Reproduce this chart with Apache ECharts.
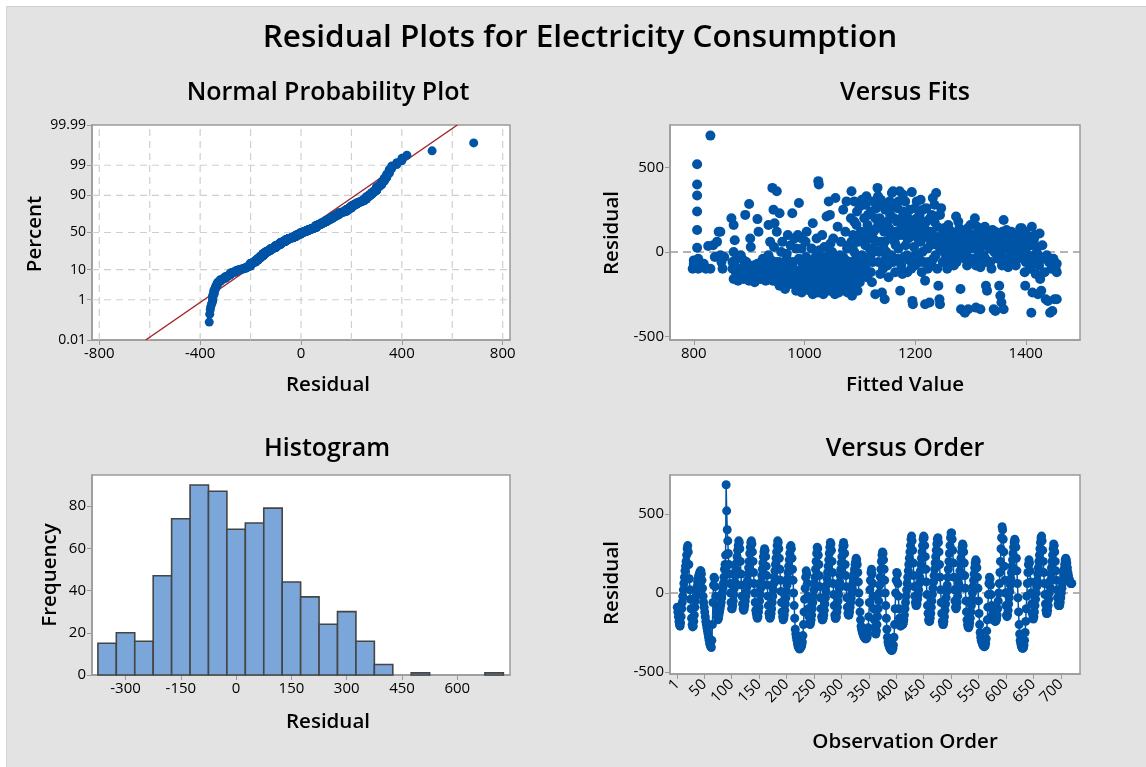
<!DOCTYPE html>
<html><head><meta charset="utf-8">
<script src="https://cdn.jsdelivr.net/npm/echarts@6/dist/echarts.min.js"></script>
<style>
html,body{margin:0;padding:0;background:#fff;}
#bg{position:absolute;left:6px;top:6px;width:1140px;height:761px;background:#e3e3e3;border-top:1px solid #cfcfcf;border-left:1px solid #d6d6d6;box-sizing:border-box;}
#c{position:absolute;left:0;top:0;width:1146px;height:767px;}
</style></head>
<body><div id="bg"></div><div id="c"></div>
<script>
const F = "Open Sans";
const BLUE = '#0054a6';

// ---- Versus Order: residuals in observation order (24 per row) ----
const orderResiduals = [
 -90,-120,-150,-180,-200,-210,-190,-150,-100,-60,-20,20,60,100,140,170,200,240,280,300,260,180,90,20,
 -40,-100,-160,-200,-215,-210,-180,-140,-90,-50,-20,10,40,70,90,110,120,130,140,140,120,80,30,-20,
 -60,-90,-120,-150,-180,-200,-220,-240,-260,-280,-300,-320,-330,-340,-345,-300,-200,-60,50,100,90,40,-20,-80,
 -120,-150,-170,-160,-140,-120,-100,-80,-60,-30,0,30,60,100,150,180,240,685,520,400,330,250,180,120,
 60,0,-60,-100,-100,-80,-50,-10,30,70,110,150,190,230,270,300,330,320,280,200,120,50,-20,-70,
 -100,-110,-100,-80,-50,-20,10,40,80,120,160,200,250,290,320,330,310,260,200,130,60,0,-60,-110,
 -130,-150,-160,-150,-120,-90,-50,-10,30,70,110,150,190,230,260,280,270,230,170,110,50,-20,-80,-130,
 -150,-160,-150,-130,-100,-60,-20,20,60,100,140,180,220,260,300,330,320,280,220,150,80,10,-60,-120,
 -150,-170,-160,-140,-110,-70,-30,10,50,90,130,170,210,250,290,300,280,220,150,80,0,-80,-160,-230,
 -260,-280,-300,-320,-335,-345,-350,-355,-350,-345,-340,-330,-310,-270,-200,-120,-40,30,100,140,120,60,-20,-100,
 -150,-190,-200,-190,-170,-140,-100,-60,-20,20,60,100,150,200,250,290,280,240,180,110,40,-30,-100,-150,
 -170,-170,-160,-140,-110,-70,-30,10,50,90,130,170,210,250,290,320,310,270,200,130,60,-10,-80,-140,
 -160,-160,-150,-120,-90,-50,-10,30,70,110,150,190,230,270,300,320,300,250,180,110,40,-30,-90,-130,
 -140,-140,-120,-90,-60,-30,0,30,60,90,120,150,180,200,220,210,180,130,70,0,-60,-120,-170,-210,
 -230,-245,-255,-265,-275,-280,-285,-290,-290,-285,-280,-260,-220,-150,-60,20,80,130,150,120,60,-20,-100,-170,
 -220,-255,-260,-240,-200,-150,-100,-50,0,50,100,150,200,240,260,250,210,150,80,0,-80,-160,-230,-280,
 -310,-325,-335,-345,-352,-358,-362,-364,-360,-350,-330,-280,-200,-100,0,80,130,120,60,-20,-100,-160,-200,-210,
 -180,-190,-200,-200,-190,-170,-140,-100,-60,-20,20,60,100,140,180,220,260,300,340,360,330,270,190,110,
 40,-20,-60,-80,-80,-70,-40,-10,20,60,100,140,180,220,260,300,340,360,350,300,230,150,70,-10,
 -80,-130,-170,-180,-180,-160,-130,-90,-50,-10,30,70,110,150,190,230,270,310,340,350,320,260,180,100,
 20,-60,-130,-180,-200,-200,-180,-150,-110,-70,-30,10,50,100,150,200,250,300,350,380,380,340,270,190,
 100,20,-50,-90,-100,-90,-60,-20,20,60,100,140,180,220,260,290,310,300,260,190,110,30,-50,-120,
 -170,-200,-215,-220,-210,-190,-160,-120,-80,-40,0,40,80,120,160,190,210,200,160,100,30,-50,-130,-200,
 -250,-280,-300,-310,-320,-330,-335,-340,-340,-335,-320,-290,-240,-170,-90,-10,60,100,90,50,-10,-80,-140,-170,
 -120,-150,-170,-180,-180,-175,-165,-140,-100,-50,0,60,130,200,280,350,420,400,340,260,170,80,0,-80,
 -140,-150,-140,-110,-70,-30,10,50,90,130,170,210,250,290,320,340,330,290,220,140,60,-30,-120,-200,
 -260,-300,-320,-335,-345,-350,-350,-345,-330,-300,-250,-180,-100,-20,60,130,180,210,190,140,70,0,-70,-130,
 -160,-165,-150,-120,-80,-40,0,40,80,120,160,200,240,280,320,350,360,330,270,200,130,60,-10,-70,
 -110,-130,-130,-110,-80,-40,0,40,80,120,160,200,240,280,310,300,260,200,140,80,20,-30,-70,-80,
 -80,-80,-60,-30,0,30,60,90,120,150,180,210,220,210,190,160,130,110,90,80,70,60,60,60
];

// ---- Versus Fits: [fitted value, residual] ----
const fitPoints = [
 [800,-50],[800,-70],[800,-95],[798,-100],[803,-60],[802,-85],
 [806,520],[806,400],[806,335],[806,240],[806,130],[806,25],[808,-40],[808,-80],[808,-100],[810,-60],
 [818,-70],[822,-100],[826,35],[830,690],[830,-100],[835,40],[838,-30],
 [842,60],[845,120],[848,-20],[850,-60],[852,-100],[855,-30],[848,120],
 [868,200],[872,160],[874,70],[872,0],[870,-60],[870,-100],[872,-160],[876,-120],[878,-40],
 [882,-100],[885,-150],[888,-120],[890,-50],[893,220],[895,-130],[897,-90],[900,285],[902,80],[903,30],[905,-120],[906,-150],[908,-80],
 [912,-140],[915,195],[917,120],[918,-130],[920,-100],[922,-60],[925,-160],[928,-110],[930,-80],
 [935,160],[938,60],[940,-50],[942,380],[944,250],[945,-100],[946,170],[948,-150],[950,360],[950,120],[952,-180],[954,-60],[955,230],[957,-120],[958,0],[960,-90],[962,-150],
 [965,-100],[968,-40],[970,-170],[972,-130],[975,40],[978,230],[980,-60],[982,80],[984,-150],[986,-110],[988,100],[990,290],[992,-180],[994,-130],[995,20],[997,-70],[999,-200],[1000,-100],[1002,60],[1004,120],[1005,-160],
 [1008,-190],[1010,-230],[1012,-120],[1014,-60],[1015,170],[1018,-200],[1020,-150],[1022,80],[1024,-240],[1025,420],[1026,400],[1028,-90],[1030,-210],[1030,-30],[1032,100],[1034,-250],[1035,-170],[1036,30],[1038,-120],[1040,-200],[1040,210],
 [1042,-60],[1044,300],[1045,-230],[1046,220],[1048,-150],[1050,-100],[1050,0],[1052,80],[1054,-200],[1055,-180],[1056,320],[1058,-120],[1060,-60],[1060,150],[1062,-240],[1064,-20],[1066,60],[1068,-160],[1070,-200],[1070,250],[1072,-100],[1074,120],[1075,-50],[1076,300],[1078,-240],[1080,40],
 [1082,-180],[1084,200],[1085,360],[1086,-260],[1087,-100],[1088,100],[1090,300],[1090,0],[1092,-200],[1094,160],[1095,-120],[1096,60],[1098,-60],[1100,-180],[1100,270],[1102,120],[1104,-20],[1106,-140],[1108,200],[1110,40],[1110,-90],
 [1112,330],[1114,160],[1115,-40],[1118,80],[1120,240],[1120,-120],[1122,-180],[1124,300],[1126,20],[1128,-250],[1130,140],[1132,380],[1133,330],[1134,-60],[1136,200],[1138,60],[1140,-240],[1140,280],[1142,-100],[1144,120],[1145,-280],[1146,250],[1148,0],[1150,180],
 [1152,-150],[1154,300],[1155,80],[1158,350],[1160,360],[1160,-60],[1162,200],[1164,-120],[1166,120],[1168,260],[1170,20],[1172,360],[1173,-230],[1175,-80],[1176,150],[1178,240],[1180,-30],[1182,300],[1184,90],[1186,-120],[1188,200],[1190,-50],[1192,140],[1194,355],[1195,-290],[1196,-310],[1198,30],[1200,260],[1200,-80],
 [1203,300],[1205,160],[1206,-20],[1208,220],[1210,60],[1212,-120],[1214,250],[1215,100],[1218,-170],[1218,-310],[1220,180],[1222,20],[1224,-60],[1226,-300],[1228,120],[1230,220],[1232,320],[1233,-40],[1235,280],[1236,60],[1238,350],[1240,-100],[1240,150],[1242,-200],[1244,-280],[1245,-310],[1246,10],[1248,100],[1250,-60],
 [1252,140],[1254,40],[1256,-30],[1258,80],[1260,160],[1262,-80],[1264,20],[1266,120],[1268,-20],[1270,60],[1272,100],[1274,210],[1275,-60],[1278,30],[1280,140],[1282,-220],[1283,-340],[1285,80],[1286,-10],[1288,-350],[1290,-360],[1290,120],[1292,40],[1294,-80],[1296,-340],[1298,60],[1300,160],
 [1302,-40],[1304,100],[1306,20],[1308,200],[1310,-330],[1312,60],[1314,-60],[1316,130],[1318,-340],[1320,40],[1322,90],[1324,-20],[1326,150],[1328,-200],[1330,-230],[1332,60],[1334,110],[1336,-60],[1338,20],[1340,130],[1342,-340],[1344,80],[1345,-350],[1346,-10],[1348,40],[1350,100],
 [1352,-200],[1354,-260],[1355,60],[1356,-300],[1358,120],[1360,190],[1360,-340],[1362,-40],[1364,80],[1366,20],[1368,100],[1370,-60],[1372,40],[1374,120],[1376,-20],[1378,80],[1380,30],[1382,-80],[1384,60],[1386,100],[1388,-30],[1390,140],[1392,40],[1393,140],[1395,-40],[1397,70],[1399,-200],[1400,20],
 [1402,100],[1404,-60],[1406,40],[1408,-100],[1410,-360],[1411,150],[1412,-240],[1414,60],[1416,-20],[1418,-130],[1420,20],[1422,-250],[1424,-80],[1425,110],[1426,-160],[1428,-230],[1430,40],[1432,-40],[1434,-120],[1436,-280],[1438,-20],[1440,-290],[1442,-60],[1444,-360],[1446,-100],[1448,-350],[1450,-40],[1452,-280],[1454,-100],[1456,-70],[1456,-120],[1456,-280],
 [955,-200],[965,-220],[975,-190],[985,-230],[995,-240],[1005,-220],[1015,-250],[1025,-200],[1035,-230],[1045,-190],[1055,-250],[1065,-210],[1075,-180],[1085,-220],[1095,-160],
 [960,-130],[970,-60],[980,-120],[990,-40],[1000,-160],[1010,-80],[1020,-30],[1030,-130],[1040,-90],[1050,-160],[1060,-130],[1070,-30],[1080,-120],[1090,-80],[1100,-40],
 [1012,-180],[1022,-140],[1042,-140],[1064,-90],[1084,-60],[1096,-230],[1076,-130],[1056,-40],[1036,-60],[1016,-110],
 [1085,60],[1095,240],[1105,80],[1115,220],[1125,120],[1135,0],[1145,60],[1155,220],[1165,40],[1175,200],[1185,-20],[1195,170],[1205,80],[1215,-60],[1225,80],[1235,180],[1245,220],
 [1090,180],[1100,100],[1110,280],[1120,-20],[1130,260],[1140,160],[1150,-80],[1160,100],[1170,300],[1180,120],[1190,250],[1200,-20],[1210,180],[1220,260],[1230,-80],[1240,40],
 [1118,20],[1128,200],[1148,120],[1168,-40],[1188,80],[1208,120],[1228,40],[1178,340],[1158,270],[1138,310],[1104,310],[1210,310],
 [1255,100],[1265,-40],[1275,100],[1285,20],[1295,140],[1305,60],[1315,-20],[1325,80],[1335,20],[1345,120],[1355,0],[1365,130],[1375,-40],[1385,20],[1395,100],[1405,-20],[1415,80],
 [1260,40],[1270,-80],[1280,60],[1290,-40],[1300,100],[1310,-80],[1320,120],[1330,-60],[1340,40],[1350,-40],[1360,80],[1370,120],[1380,-60],[1390,60],[1400,-60],[1410,40],[1420,-60],
 [1258,-100],[1318,-90],[1338,-100],[1368,-90],[1398,-120],[1278,180],[1312,150],
 [880,-170],[890,-160],[900,-170],[910,-180],[920,-160],[930,-170],[940,-130],[875,-50],[885,-20],[895,-60],[915,-70],[935,-20],[925,-40],[945,30],[960,60],[970,100],[985,20],[995,80],
 [1003,-30],[1007,-120],[1013,20],[1019,-70],[1023,-180],[1027,10],[1033,-60],[1037,-190],[1043,-20],[1047,50],[1053,-70],[1057,-210],[1063,-150],[1067,-50],[1073,-230],[1077,20],[1083,-140],[1087,30],[1093,-40],[1097,-100],
 [1103,-80],[1107,60],[1113,-150],[1117,120],[1123,-60],[1127,70],[1133,180],[1137,-130],[1143,20],[1147,-40],[1153,140],[1157,-20],[1163,60],[1167,180],[1173,100],[1177,-130],[1183,40],[1187,160],[1193,-100],[1197,100],[1203,200],[1207,-60],[1213,0],[1217,140],[1223,-100],[1227,200],[1233,100],[1237,-20],[1243,80],[1247,260],
 [1253,0],[1257,120],[1263,60],[1267,-60],[1273,20],[1277,-20],[1283,100],[1287,60],[1293,0],[1297,100],[1303,30],[1307,-60],[1313,100],[1317,0],[1323,40],[1327,-40],[1333,100],[1337,50],[1343,0],[1347,70],[1353,30],[1357,-80],[1363,20],[1367,60],[1373,0],[1377,100],[1383,-20],[1387,40],[1393,0],[1397,120],[1403,40],[1407,-80],[1413,-40],[1417,100],[1423,-20],
 [903,-100],[913,-110],[923,-130],[933,-120],[943,-170],[953,-140],[963,-170],[973,-100],[983,-190],[993,-150],[958,-100],[978,-160],[998,-140],[948,-60],[968,-10]
];

// ---- Histogram ----
const histCenters = [-350,-300,-250,-200,-150,-100,-50,0,50,100,150,200,250,300,350,400,450,500,550,600,650,700];
const histCounts  = [15,20,16,47,74,90,87,69,72,79,44,37,24,30,16,5,0,1,0,0,0,1];
const histBinWidth = 50;

// ---- Tick labels ----
const nppPercentTicks = [0.01,1,10,50,90,99,99.99];
const nppPercentLabels = ['0.01','1','10','50','90','99','99.99'];
const nppPercentGrid = [1,10,50,90,99];
const nppResidualTicks = [-800,-400,0,400,800];
const nppResidualGrid = [-800,-600,-400,-200,0,200,400,600,800];
const nppFitLineResidual = [-616,620];
const nppFitLinePercent = [0.01,99.99];
const fitsXTicks = [800,1000,1200,1400];
const residTicks = [-500,0,500];
const histXTicks = [-300,-150,0,150,300,450,600];
const histYTicks = [0,20,40,60,80];
const orderTicks = [1,50,100,150,200,250,300,350,400,450,500,550,600,650,700];

function invNorm(p){
 const a=[-3.969683028665376e+01,2.209460984245205e+02,-2.759285104469687e+02,1.383577518672690e+02,-3.066479806614716e+01,2.506628277459239e+00];
 const b=[-5.447609879822406e+01,1.615858368580409e+02,-1.556989798598866e+02,6.680131188771972e+01,-1.328068155288572e+01];
 const c=[-7.784894002430293e-03,-3.223964580411365e-01,-2.400758277161838e+00,-2.549732539343734e+00,4.374664141464968e+00,2.938163982698783e+00];
 const d=[7.784695709041462e-03,3.224671290700398e-01,2.445134137142996e+00,3.754408661907416e+00];
 const pl=0.02425;
 if(p<pl){const q=Math.sqrt(-2*Math.log(p));return (((((c[0]*q+c[1])*q+c[2])*q+c[3])*q+c[4])*q+c[5])/((((d[0]*q+d[1])*q+d[2])*q+d[3])*q+1);}
 if(p>1-pl){const q=Math.sqrt(-2*Math.log(1-p));return -(((((c[0]*q+c[1])*q+c[2])*q+c[3])*q+c[4])*q+c[5])/((((d[0]*q+d[1])*q+d[2])*q+d[3])*q+1);}
 const q=p-0.5,r=q*q;return (((((a[0]*r+a[1])*r+a[2])*r+a[3])*r+a[4])*r+a[5])*q/(((((b[0]*r+b[1])*r+b[2])*r+b[3])*r+b[4])*r+1);
}

const zTicks = nppPercentTicks.map(p=>invNorm(p/100));
const zMin = zTicks[0], zMax = zTicks[zTicks.length-1];
const sortedRes = orderResiduals.slice().sort((x,y)=>x-y);
const N = sortedRes.length;
const nppPoints = sortedRes.map((v,i)=>[v, invNorm((i+1-0.3)/(N+0.4))]);
const nppLine = nppFitLineResidual.map((v,i)=>[v, invNorm(nppFitLinePercent[i]/100)]);

const AX = '#9a9a9a';
const plain = v => String(v);
function vax(gi,min,max,ticks,labelExtra,fmt){
  const lab = Object.assign({customValues:ticks,color:'#000',fontSize:15,fontFamily:F,margin:6,formatter:plain}, labelExtra||{});
  if(fmt) lab.formatter = fmt;
  return {type:'value',gridIndex:gi,min:min,max:max,
    axisLine:{show:true,onZero:false,lineStyle:{color:AX,width:1.5}},
    axisTick:{show:true,length:5,customValues:ticks,lineStyle:{color:AX,width:1}},
    axisLabel:lab, splitLine:{show:false}};
}
function gridLines(xi,yi,vals,vertical,from,to,style){
  return {type:'custom',xAxisIndex:xi,yAxisIndex:yi,silent:true,z:1,
    data:vals.map(v=>[v]),encode:{x:vertical?0:[],y:vertical?[]:0},
    renderItem:function(params,api){
      const v=api.value(0);
      const a=vertical?api.coord([v,from]):api.coord([from,v]);
      const b=vertical?api.coord([v,to]):api.coord([to,v]);
      return {type:'line',shape:{x1:a[0],y1:a[1],x2:b[0],y2:b[1]},style:style};
    }};
}
const dashGrid = {stroke:'#cfcfcf',lineWidth:1.2,lineDash:[7,5]};
const refLine = {stroke:'#9a9a9a',lineWidth:1.5,lineDash:[8,5]};

const gridStyle = {show:true,backgroundColor:'#fff',borderColor:AX,borderWidth:1.5,containLabel:false};
const T = (text,x,y,size,rot)=>({type:'text',x:x,y:y,rotation:rot||0,silent:true,
  style:{text:text,fontFamily:F,fontSize:size,fontWeight:600,fill:'#000',align:'center',verticalAlign:'middle'}});

const chart = echarts.init(document.getElementById('c'),null,{renderer:'canvas'});
chart.setOption({
  backgroundColor:'transparent',
  animation:false,
  grid:[
    Object.assign({left:92,top:125,width:418,height:215},gridStyle),
    Object.assign({left:670,top:125,width:410,height:215},gridStyle),
    Object.assign({left:92,top:475,width:418,height:200},gridStyle),
    Object.assign({left:670,top:475,width:410,height:199},gridStyle)
  ],
  xAxis:[
    vax(0,-829,829,nppResidualTicks),
    vax(1,757,1498,fitsXTicks),
    vax(2,-391,743,histXTicks),
    vax(3,-12.3,735,orderTicks,{rotate:45,margin:8})
  ],
  yAxis:[
    vax(0,zMin,zMax,zTicks,{fontSize:14},function(v){
      let best=0,bd=1e9; zTicks.forEach((z,i)=>{const d=Math.abs(z-v); if(d<bd){bd=d;best=i;}});
      return nppPercentLabels[best];}),
    vax(1,-522,753,residTicks),
    vax(2,0,94.7,histYTicks),
    vax(3,-513,747,residTicks)
  ],
  graphic:[
    T('Residual Plots for Electricity Consumption',580,38,31.5),
    T('Normal Probability Plot',328,93,25),
    T('Versus Fits',905,93,25),
    T('Histogram',327,449,25),
    T('Versus Order',905,449,25),
    T('Residual',328,385,20.5),
    T('Percent',35,234,20.5,Math.PI/2),
    T('Fitted Value',905,385,20.5),
    T('Residual',612,233,20.5,Math.PI/2),
    T('Residual',328,722,20.5),
    T('Frequency',50,575,20.5,Math.PI/2),
    T('Residual',612,583,20.5,Math.PI/2),
    T('Observation Order',905,742,20.5)
  ],
  series:[
    gridLines(0,0,nppResidualGrid,true,zMin,zMax,dashGrid),
    gridLines(0,0,nppPercentGrid.map(p=>invNorm(p/100)),false,-829,829,dashGrid),
    {type:'line',xAxisIndex:0,yAxisIndex:0,data:nppLine,symbol:'none',z:2,
      lineStyle:{color:'#a3232a',width:1.5},silent:true},
    {type:'scatter',xAxisIndex:0,yAxisIndex:0,data:nppPoints,symbolSize:9,z:3,
      itemStyle:{color:BLUE,opacity:1}},
    gridLines(1,1,[0],false,757,1498,refLine),
    {type:'scatter',xAxisIndex:1,yAxisIndex:1,data:fitPoints,symbolSize:10,z:3,
      itemStyle:{color:BLUE,opacity:1}},
    {type:'custom',xAxisIndex:2,yAxisIndex:2,z:3,
      data:histCenters.map((c,i)=>[c,histCounts[i]]),
      renderItem:function(params,api){
        const c=api.value(0),h=api.value(1);
        if(!h) return null;
        const p0=api.coord([c-histBinWidth/2,h]),p1=api.coord([c+histBinWidth/2,0]);
        return {type:'rect',shape:{x:p0[0],y:p0[1],width:p1[0]-p0[0],height:p1[1]-p0[1]},
          style:{fill:'#7ba6d9',stroke:'#454545',lineWidth:1.6}};
      }},
    gridLines(3,3,[0],false,-12.3,735,refLine),
    {type:'line',xAxisIndex:3,yAxisIndex:3,data:orderResiduals.map((v,i)=>[i+1,v]),
      symbol:'circle',symbolSize:9,showSymbol:true,z:3,
      lineStyle:{color:BLUE,width:1.5},itemStyle:{color:BLUE}}
  ]
});
</script></body></html>
